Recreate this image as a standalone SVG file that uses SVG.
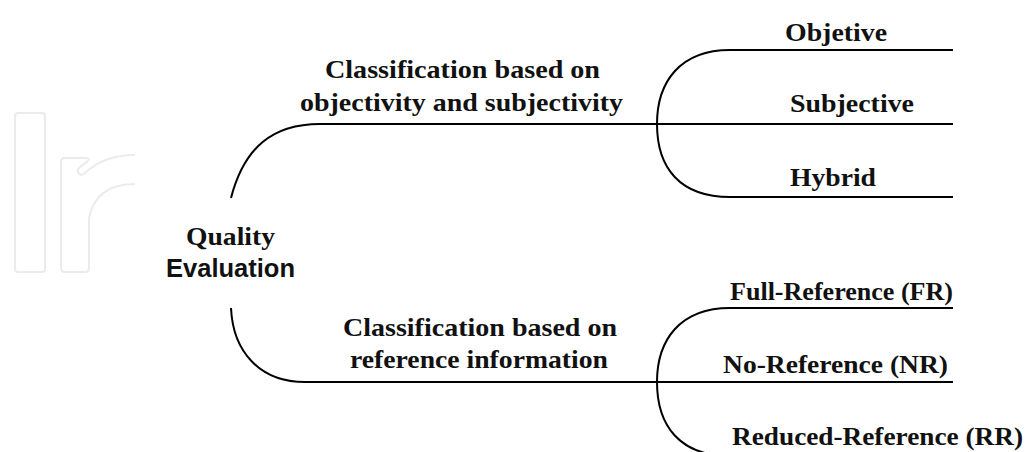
<svg xmlns="http://www.w3.org/2000/svg" width="1028" height="452" viewBox="0 0 1028 452">
  <style>
    .lbl { font-family: "Liberation Serif", "Times New Roman", serif; font-weight: bold; font-size: 26px; fill: #111; }
    .sans { font-family: "Liberation Sans", Arial, sans-serif; font-weight: bold; font-size: 25px; fill: #111; }
    .wire { fill: none; stroke: #000; stroke-width: 2; }
    .wm { fill: none; stroke: #ebebeb; stroke-width: 2; stroke-linejoin: round; }
  </style>
  <rect width="1028" height="452" fill="#fff"/>
  <g id="watermark">
    <rect class="wm" x="15" y="113" width="30" height="159" rx="3"/>
    <path class="wm" d="M135,155 Q104,155 85,173 Q80,177 78,172 Q77,169 80,167 L88,161 Q90,158 86,158 L65,158 Q61,158 61,162 L61,268 Q61,272 65,272 L85,272 Q89,272 89,268 L89,218 Q96,184 135,184"/>
  </g>
  <g id="connectors">
    <path class="wire" d="M231,198 C244,148 272,124 320,124 L657,124"/>
    <path class="wire" d="M231,308 C233,352 260,382 305,382 L657,382"/>
    <path class="wire" d="M953,50 L730,50 C680,50 657,82 657,124 C657,168 680,197 730,197 L953,197"/>
    <path class="wire" d="M657,124 L953,124"/>
    <path class="wire" d="M953,308 L730,308 C680,308 657,340 657,382 C657,426 680,456 730,456 L953,456"/>
    <path class="wire" d="M657,382 L953,382"/>
  </g>
  <g id="quality-evaluation">
    <text class="lbl" x="186" y="245" textLength="89" lengthAdjust="spacingAndGlyphs">Quality</text>
    <text class="sans" x="166" y="277" textLength="129" lengthAdjust="spacingAndGlyphs">Evaluation</text>
  </g>
  <g id="class-objectivity">
    <text class="lbl" x="325" y="78" textLength="275" lengthAdjust="spacingAndGlyphs">Classification based on</text>
    <text class="lbl" x="300" y="111" textLength="323" lengthAdjust="spacingAndGlyphs">objectivity and subjectivity</text>
  </g>
  <g id="objective">
    <text class="lbl" x="785" y="41" textLength="102" lengthAdjust="spacingAndGlyphs">Objetive</text>
  </g>
  <g id="subjective">
    <text class="lbl" x="790" y="112" textLength="124" lengthAdjust="spacingAndGlyphs">Subjective</text>
  </g>
  <g id="hybrid">
    <text class="lbl" x="790" y="186" textLength="86" lengthAdjust="spacingAndGlyphs">Hybrid</text>
  </g>
  <g id="class-reference">
    <text class="lbl" x="343" y="336" textLength="274" lengthAdjust="spacingAndGlyphs">Classification based on</text>
    <text class="lbl" x="350" y="368" textLength="258" lengthAdjust="spacingAndGlyphs">reference information</text>
  </g>
  <g id="full-reference">
    <text class="lbl" x="730" y="300" textLength="223" lengthAdjust="spacingAndGlyphs">Full-Reference (FR)</text>
  </g>
  <g id="no-reference">
    <text class="lbl" x="723" y="373" textLength="225" lengthAdjust="spacingAndGlyphs">No-Reference (NR)</text>
  </g>
  <g id="reduced-reference">
    <text class="lbl" x="732" y="445" textLength="291" lengthAdjust="spacingAndGlyphs">Reduced-Reference (RR)</text>
  </g>
</svg>
